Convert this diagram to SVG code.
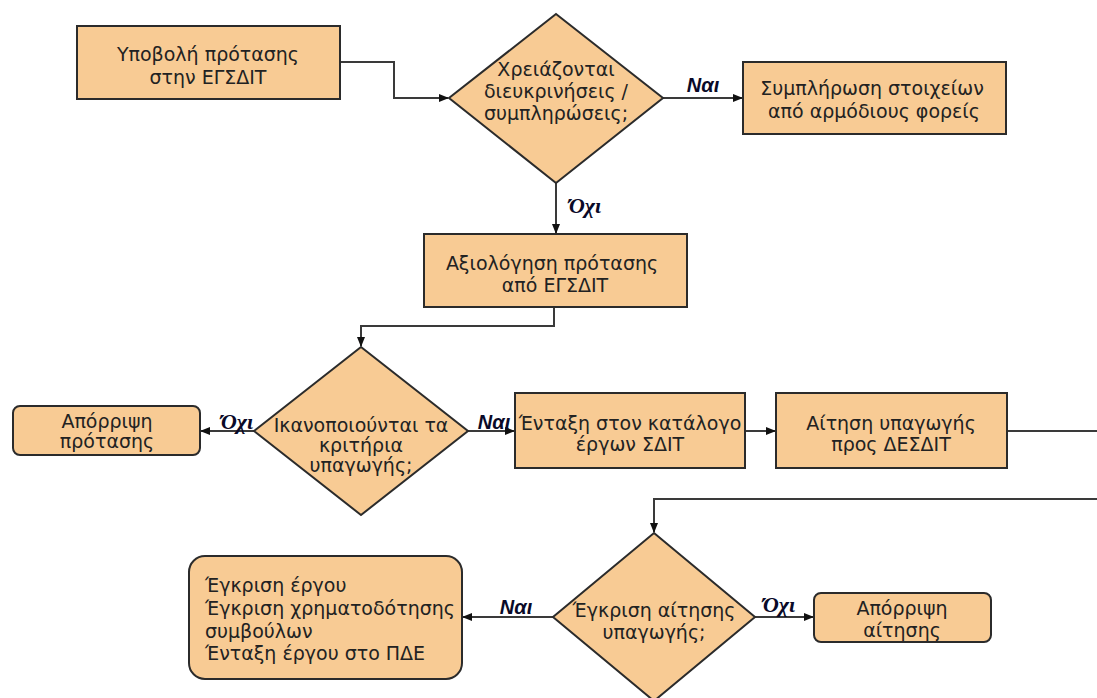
<svg xmlns="http://www.w3.org/2000/svg" width="1097" height="698" viewBox="0 0 1097 698">
<style>
.n{fill:#F8CB94;stroke:#2b2b2b;stroke-width:2}
.t{font-family:"DejaVu Sans",Verdana,sans-serif;font-size:19px;fill:#222;text-anchor:middle}
.tl{font-family:"DejaVu Sans",Verdana,sans-serif;font-size:19px;fill:#222}
.c{fill:none;stroke:#3a3a3a;stroke-width:2}
.ny{font-family:"Liberation Sans",Arial,sans-serif;font-weight:bold;font-style:italic;font-size:20px;fill:#0a0a28;text-anchor:middle}
.no{font-family:"Liberation Serif","Times New Roman",serif;font-weight:bold;font-style:italic;font-size:22px;fill:#0a0a28;text-anchor:middle}
</style>
<defs>
<marker id="a" markerWidth="10" markerHeight="10" refX="9" refY="5" orient="auto" markerUnits="userSpaceOnUse">
<path d="M0,1 L10,5 L0,9 Z" fill="#111"/>
</marker>
</defs>
<rect width="1097" height="698" fill="#fff"/>
<g id="connectors">
<path class="c" d="M340,62 H394 V98 H448" marker-end="url(#a)"/>
<path class="c" d="M663,98 H742" marker-end="url(#a)"/>
<path class="c" d="M556,183 V233" marker-end="url(#a)"/>
<path class="c" d="M554,307 V326 H361 V346" marker-end="url(#a)"/>
<path class="c" d="M254,431 H201" marker-end="url(#a)"/>
<path class="c" d="M468,431 H514" marker-end="url(#a)"/>
<path class="c" d="M745,431 H775" marker-end="url(#a)"/>
<path class="c" d="M1007,431 H1097"/>
<path class="c" d="M1097,499 H654 V532" marker-end="url(#a)"/>
<path class="c" d="M755,617 H813" marker-end="url(#a)"/>
<path class="c" d="M553,617 H463" marker-end="url(#a)"/>
<text class="ny" x="703" y="92">Ναι</text>
<text class="no" x="585" y="213">Όχι</text>
<text class="no" x="237" y="429">Όχι</text>
<text class="ny" x="494" y="429">Ναι</text>
<text class="no" x="779" y="612">Όχι</text>
<text class="ny" x="516" y="614">Ναι</text>
</g>
<g id="n1">
<rect class="n" x="77" y="26" width="263" height="73"/>
<text class="t" x="208" y="61">Υποβολή πρότασης</text>
<text class="t" x="208" y="84">στην ΕΓΣΔΙΤ</text>
</g>
<g id="d1">
<polygon class="n" points="556,14 663,98 556,183 449,98"/>
<text class="t" x="556" y="76">Χρειάζονται</text>
<text class="t" x="556" y="98">διευκρινήσεις /</text>
<text class="t" x="556" y="120">συμπληρώσεις;</text>
</g>
<g id="n2">
<rect class="n" x="743" y="62" width="263" height="72"/>
<text class="t" x="872" y="95">Συμπλήρωση στοιχείων</text>
<text class="t" x="874" y="118">από αρμόδιους φορείς</text>
</g>
<g id="n3">
<rect class="n" x="424" y="234" width="263" height="73"/>
<text class="t" x="552" y="270">Αξιολόγηση πρότασης</text>
<text class="t" x="555" y="292">από ΕΓΣΔΙΤ</text>
</g>
<g id="d2">
<polygon class="n" points="361,347 468,431 361,515 254,431"/>
<text class="t" x="361" y="432">Ικανοποιούνται τα</text>
<text class="t" x="361" y="452">κριτήρια</text>
<text class="t" x="361" y="472">υπαγωγής;</text>
</g>
<g id="n4">
<rect class="n" x="13" y="406" width="187" height="49" rx="7"/>
<text class="t" x="107" y="428">Απόρριψη</text>
<text class="t" x="107" y="448">πρότασης</text>
</g>
<g id="n5">
<rect class="n" x="515" y="393" width="230" height="75"/>
<text class="t" x="630" y="430">Ένταξη στον κατάλογο</text>
<text class="t" x="630" y="451">έργων ΣΔΙΤ</text>
</g>
<g id="n6">
<rect class="n" x="776" y="393" width="231" height="75"/>
<text class="t" x="891" y="430">Αίτηση υπαγωγής</text>
<text class="t" x="891" y="451">προς ΔΕΣΔΙΤ</text>
</g>
<g id="d3">
<polygon class="n" points="654,533 755,617 654,701 553,617"/>
<text class="t" x="654" y="617">Έγκριση αίτησης</text>
<text class="t" x="654" y="639">υπαγωγής;</text>
</g>
<g id="n7">
<rect class="n" x="814" y="593" width="177" height="49" rx="7"/>
<text class="t" x="902" y="615">Απόρριψη</text>
<text class="t" x="902" y="637">αίτησης</text>
</g>
<g id="n8">
<rect class="n" x="189" y="556" width="273" height="123" rx="16"/>
<text class="tl" x="205" y="592">Έγκριση έργου</text>
<text class="tl" x="205" y="615">Έγκριση χρηματοδότησης</text>
<text class="tl" x="205" y="638">συμβούλων</text>
<text class="tl" x="205" y="660">Ένταξη έργου στο ΠΔΕ</text>
</g>
</svg>
